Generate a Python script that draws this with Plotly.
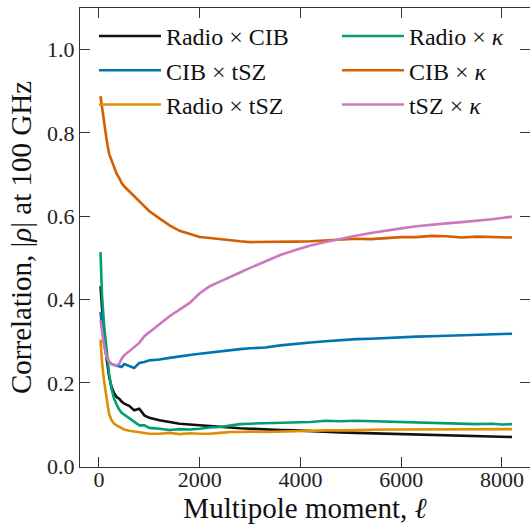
import plotly.graph_objects as go

# Multipole moments (bin centres)
ell = [30, 60, 100, 150, 200, 250, 300, 350, 400, 450,
       500, 600, 700, 800, 900, 1000, 1200, 1400, 1600, 1800,
       2000, 2200, 2400, 2600, 2800, 3000, 3300, 3600, 3900, 4200,
       4500, 4800, 5100, 5400, 5700, 6000, 6300, 6600, 6900, 7200,
       7500, 7800, 8000, 8200]

radio_cib = [0.432, 0.370, 0.310, 0.260, 0.215, 0.190, 0.175, 0.166, 0.162, 0.155,
             0.150, 0.145, 0.134, 0.138, 0.122, 0.116, 0.110, 0.106, 0.102, 0.100,
             0.098, 0.097, 0.095, 0.093, 0.091, 0.090, 0.088, 0.087, 0.086, 0.084,
             0.082, 0.081, 0.080, 0.079, 0.078, 0.077, 0.075, 0.074, 0.073, 0.073,
             0.072, 0.071, 0.070, 0.070]

cib_tsz = [0.370, 0.330, 0.295, 0.265, 0.250, 0.245, 0.242, 0.241, 0.240, 0.238,
           0.245, 0.240, 0.236, 0.248, 0.250, 0.254, 0.256, 0.260, 0.264, 0.267,
           0.270, 0.273, 0.276, 0.279, 0.281, 0.283, 0.285, 0.290, 0.294, 0.297,
           0.300, 0.303, 0.305, 0.306, 0.308, 0.309, 0.311, 0.312, 0.313, 0.314,
           0.315, 0.317, 0.317, 0.318]

radio_tsz = [0.304, 0.250, 0.205, 0.158, 0.125, 0.110, 0.102, 0.098, 0.094, 0.091,
             0.088, 0.085, 0.083, 0.081, 0.080, 0.078, 0.078, 0.080, 0.077, 0.079,
             0.078, 0.078, 0.080, 0.082, 0.082, 0.083, 0.082, 0.083, 0.085, 0.086,
             0.086, 0.086, 0.087, 0.087, 0.088, 0.088, 0.088, 0.088, 0.088, 0.088,
             0.088, 0.089, 0.088, 0.089]

radio_kappa = [0.514, 0.410, 0.340, 0.278, 0.222, 0.185, 0.162, 0.148, 0.136, 0.128,
               0.124, 0.116, 0.106, 0.098, 0.098, 0.092, 0.090, 0.087, 0.089, 0.088,
               0.090, 0.093, 0.094, 0.098, 0.101, 0.102, 0.103, 0.104, 0.104, 0.106,
               0.109, 0.108, 0.109, 0.108, 0.106, 0.106, 0.105, 0.104, 0.103, 0.102,
               0.101, 0.102, 0.100, 0.101]

cib_kappa = [0.888, 0.860, 0.820, 0.785, 0.750, 0.734, 0.715, 0.702, 0.692, 0.680,
             0.672, 0.660, 0.650, 0.636, 0.624, 0.612, 0.595, 0.578, 0.565, 0.557,
             0.550, 0.548, 0.545, 0.542, 0.540, 0.538, 0.538, 0.538, 0.539, 0.540,
             0.542, 0.543, 0.546, 0.545, 0.547, 0.550, 0.550, 0.553, 0.552, 0.549,
             0.551, 0.550, 0.551, 0.549]

tsz_kappa = [0.350, 0.320, 0.290, 0.262, 0.250, 0.245, 0.243, 0.242, 0.245, 0.258,
             0.266, 0.276, 0.285, 0.296, 0.312, 0.322, 0.342, 0.360, 0.376, 0.392,
             0.415, 0.432, 0.443, 0.455, 0.465, 0.476, 0.492, 0.507, 0.519, 0.530,
             0.538, 0.546, 0.553, 0.560, 0.566, 0.571, 0.576, 0.580, 0.583, 0.586,
             0.589, 0.593, 0.596, 0.599]

labels = ["Radio × CIB", "CIB × tSZ", "Radio × tSZ",
          "Radio × <i>κ</i>", "CIB × <i>κ</i>", "tSZ × <i>κ</i>"]
colors = ["#111111", "#0173B2", "#DE8F05", "#029E73", "#D55E00", "#CC78BC"]
series = [radio_cib, cib_tsz, radio_tsz, radio_kappa, cib_kappa, tsz_kappa]
legends = ["legend", "legend", "legend", "legend2", "legend2", "legend2"]

FONT = "Liberation Serif"

fig = go.Figure()
for i, (lab, col, ys, lg) in enumerate(zip(labels, colors, series, legends)):
    fig.add_trace(go.Scatter(
        x=ell, y=ys, mode="lines", name=lab,
        line=dict(color=col, width=2.6),
        legend=lg, legendgroup=f"g{i}",
    ))

axis_common = dict(
    showline=True, linecolor="#333333", linewidth=1.2, mirror="ticks",
    ticks="inside", ticklen=10, tickwidth=1.2, tickcolor="#333333",
    showgrid=False, zeroline=False, automargin=False,
    tickfont=dict(family=FONT, size=22, color="#222222"),
)

legend_common = dict(
    yanchor="top", xanchor="left", y=0.987,
    bgcolor="rgba(0,0,0,0)", borderwidth=0,
    font=dict(family=FONT, size=24, color="#111111"),
    itemwidth=62, tracegroupgap=0, traceorder="grouped",
)

fig.update_layout(
    width=530, height=525,
    margin=dict(l=80, r=0, t=8, b=58),
    paper_bgcolor="white", plot_bgcolor="white",
    font=dict(family=FONT, color="#111111"),
    xaxis=dict(range=[-377, 8556], tickvals=[0, 2000, 4000, 6000, 8000],
               ticklabelstandoff=-8,
               title=dict(text="Multipole moment, <i>ℓ</i>",
                          font=dict(family=FONT, size=29, color="#111111"), standoff=7),
               **axis_common),
    yaxis=dict(range=[-0.002, 1.1], tickvals=[0.0, 0.2, 0.4, 0.6, 0.8, 1.0],
               tickformat=".1f",
               title=dict(text="Correlation, |<i>ρ</i>| at 100 GHz",
                          font=dict(family=FONT, size=29, color="#111111"), standoff=6),
               **axis_common),
    legend=dict(x=0.031, **legend_common),
    legend2=dict(x=0.571, **legend_common),
)

fig.write_html("out.html")
